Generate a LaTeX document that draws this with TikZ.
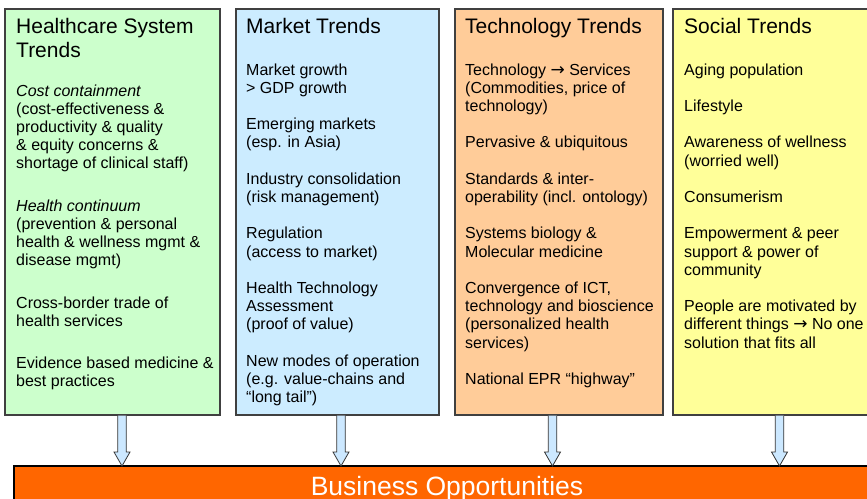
\documentclass[tikz,border=0pt]{standalone}
\usepackage{fontspec}
\setmainfont{Liberation Sans}
\newfontfamily\symfont{DejaVu Sans}
\usetikzlibrary{calc}

\definecolor{hsgreen}{HTML}{CCFFCC}
\definecolor{mkblue}{HTML}{CCECFF}
\definecolor{techorange}{HTML}{FFCC99}
\definecolor{socyellow}{HTML}{FFFF99}
\definecolor{bizorange}{HTML}{FF6600}
\definecolor{arrowblue}{HTML}{CCE8FF}

% bold right arrow used inside the text lines
\newcommand\toarrow{{\symfont\fontsize{17pt}{17pt}\selectfont →}}

\tikzset{
  panel/.style={draw=black!75, line width=1.1pt, inner sep=0pt, outer sep=0pt,
                anchor=north west, minimum height=406pt},
  heading/.style={anchor=base west, inner sep=0pt, font=\fontsize{21pt}{25pt}\selectfont},
  body/.style={anchor=base west, inner sep=0pt, font=\fontsize{16pt}{18.2pt}\selectfont},
  flowarrow/.style={draw=black!80, line width=0.8pt, fill=arrowblue, line join=miter},
  bizbar/.style={fill=bizorange, draw=black, line width=1.1pt, inner sep=0pt, outer sep=0pt,
                 anchor=north west, minimum width=866pt, minimum height=60pt}
}

% hollow block arrow from a point on a panel down to the top of a node
\newcommand\trendarrow[2]{%
  \draw[flowarrow] let \p1=(#1), \p2=(#2.north) in
    (\x1-4.25pt,\y1) -- (\x1-4.25pt,\y2+14pt) -- (\x1-8pt,\y2+14pt) -- (\x1,\y2)
    -- (\x1+8pt,\y2+14pt) -- (\x1+4.25pt,\y2+14pt) -- (\x1+4.25pt,\y1);}

\begin{document}
\begin{tikzpicture}[x=1pt, y=-1pt]
  \clip (0,0) rectangle (867,498);
  \fill[white] (0,0) rectangle (867,498);

  % the four trend panels
  \node[panel, fill=hsgreen,    minimum width=215pt] (gbox) at (5,9) {};
  \node[panel, fill=mkblue,     minimum width=203pt] (bbox) at (236,9) {};
  \node[panel, fill=techorange, minimum width=208pt] (obox) at (455,9) {};
  \node[panel, fill=socyellow,  minimum width=220pt] (ybox) at (673,9) {};

  % business opportunities bar
  \node[bizbar] (bar) at (14,466) {};
  \node[anchor=base, inner sep=0pt, text=white, font=\fontsize{26.5pt}{30pt}\selectfont]
    (bartext) at ([yshift=-29pt]bar.north) {Business Opportunities};

  % headings
  \node[heading] (gh1) at (16,33) {Healthcare System};
  \node[heading] (gh2) at (16,57.5) {Trends};
  \node[heading] (bh) at (246,33) {Market Trends};
  \node[heading] (oh) at (465,33) {Technology Trends};
  \node[heading] (yh) at (684,33) {Social Trends};

  % healthcare system trends
  \foreach \yy/\tt [count=\i] in {
      96/{\itshape Cost containment},
      114.2/(cost-effectiveness \&,
      132.4/productivity \& quality,
      150.6/\& equity concerns \&,
      168.8/shortage of clinical staff),
      211/{\itshape Health continuum},
      229.2/(prevention \& personal,
      247.4/health \& wellness mgmt \&,
      265.6/disease mgmt),
      308/Cross-border trade of,
      326.2/health services,
      368/Evidence based medicine \&,
      386.2/best practices}
    \node[body] (g\i) at (16,\yy) {\tt};

  % market trends
  \foreach \k/\tt [count=\i] in {
      0/Market growth, 1/> GDP growth,
      3/Emerging markets, 4/(esp. in Asia),
      6/Industry consolidation, 7/(risk management),
      9/Regulation, 10/(access to market),
      12/Health Technology, 13/Assessment, 14/(proof of value),
      16/New modes of operation, 17/(e.g. value-chains and, 18/“long tail”)}
    \node[body] (b\i) at (246,{75+18.2*\k}) {\tt};

  % technology trends
  \foreach \k/\tt [count=\i] in {
      0/Technology \toarrow{} Services, 1/{(Commodities, price of}, 2/technology),
      4/Pervasive \& ubiquitous,
      6/Standards \& inter-, 7/operability (incl. ontology),
      9/Systems biology \&, 10/Molecular medicine,
      12/{Convergence of ICT,}, 13/technology and bioscience,
      14/(personalized health, 15/services),
      17/National EPR “highway”}
    \node[body] (o\i) at (465,{75+18.2*\k}) {\tt};

  % social trends
  \foreach \k/\tt [count=\i] in {
      0/Aging population,
      2/Lifestyle,
      4/Awareness of wellness, 5/(worried well),
      7/Consumerism,
      9/Empowerment \& peer, 10/support \& power of, 11/community,
      13/People are motivated by, 14/different things \toarrow{} No one, 15/solution that fits all}
    \node[body] (y\i) at (684,{75+18.2*\k}) {\tt};

  % arrows from each panel into the bar
  \path (gbox.south west) ++(117,0.6) coordinate (ga);
  \path (bbox.south west) ++(105,0.6) coordinate (ba);
  \path (obox.south west) ++(97.5,0.6) coordinate (oa);
  \path (ybox.south west) ++(106.5,0.6) coordinate (ya);
  \trendarrow{ga}{bar}
  \trendarrow{ba}{bar}
  \trendarrow{oa}{bar}
  \trendarrow{ya}{bar}
\end{tikzpicture}
\end{document}
